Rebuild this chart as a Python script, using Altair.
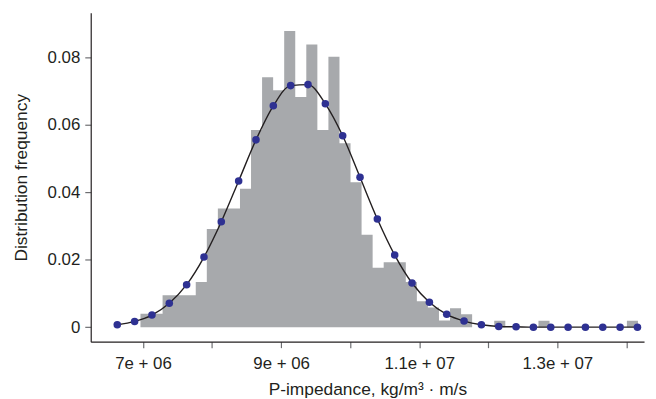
import altair as alt
import pandas as pd

# Histogram: 45 equal bins starting at hist_start with width hist_width
hist_start = 6.963e6
hist_width = 1.601e5
hist_freq = [
    0.0040, 0.0040, 0.0095, 0.0095, 0.0095, 0.0134, 0.0291, 0.0352, 0.0352, 0.0411,
    0.0585, 0.0742, 0.0703, 0.0879, 0.0683, 0.0839, 0.0585, 0.0803, 0.0546, 0.0430,
    0.0274, 0.0176, 0.0193, 0.0193, 0.0134, 0.0077, 0.0058, 0.0020, 0.0056, 0.0038,
    0.0000, 0.0000, 0.0019, 0.0000, 0.0000, 0.0000, 0.0019, 0.0000, 0.0000, 0.0000,
    0.0000, 0.0000, 0.0000, 0.0000, 0.0019,
]

# Fitted density curve sampled on an even grid
kde_start = 6.627e6
kde_step = 2.511e5
kde_vals = [
    0.0007, 0.0017, 0.0036, 0.0071, 0.0126, 0.0208, 0.0313, 0.0434, 0.0556, 0.0657,
    0.0717, 0.0720, 0.0663, 0.0568, 0.0445, 0.0321, 0.0214, 0.0131, 0.0074, 0.0038,
    0.0018, 0.0007, 0.0002, 0.0001, 0.0000, 0.0000, 0.0000, 0.0000, 0.0000, 0.0000,
    0.0000,
]

x_ticks = [7e6, 8e6, 9e6, 1e7, 1.1e7, 1.2e7, 1.3e7, 1.4e7]
x_tick_labels = ["7e + 06", "", "9e + 06", "", "1.1e + 07", "", "1.3e + 07", ""]
y_ticks = [0, 0.01, 0.02, 0.03, 0.04, 0.05, 0.06, 0.07, 0.08, 0.09]
y_tick_labels = ["0", "", "0.02", "", "0.04", "", "0.06", "", "0.08", ""]

x_domain = [6.2425e6, 1.42555e7]
y_domain = [-0.00432, 0.09332]

edges = [hist_start + i * hist_width for i in range(len(hist_freq) + 1)]
hist_df = pd.DataFrame({"x": edges, "f": hist_freq + [0.0]})
kde_df = pd.DataFrame({"x": [kde_start + i * kde_step for i in range(len(kde_vals))],
                       "d": kde_vals})

def label_expr(vals, labels):
    expr = "''"
    for v, l in zip(vals, labels):
        if l:
            expr = f"abs(datum.value - {v!r}) < 1e-9 * max(1, abs({v!r})) ? '{l}' : " + expr
    return expr

FONT = "Liberation Sans"
TXT = "#231f20"

xscale = alt.Scale(domain=x_domain, nice=False, zero=False)
yscale = alt.Scale(domain=y_domain, nice=False, zero=False)

xaxis = alt.Axis(values=x_ticks, labelExpr=label_expr(x_ticks, x_tick_labels),
                 title="P-impedance, kg/m³ · m/s", grid=False,
                 labelPadding=8, titlePadding=9)
yaxis = alt.Axis(values=y_ticks, labelExpr=label_expr(y_ticks, y_tick_labels),
                 title="Distribution frequency", grid=False,
                 labelPadding=5, titlePadding=17)

hist = alt.Chart(hist_df).mark_area(interpolate="step-after", color="#a7a9ac").encode(
    x=alt.X("x:Q", scale=xscale, axis=xaxis),
    y=alt.Y("f:Q", scale=yscale, axis=yaxis),
    y2=alt.datum(0),
)

line = alt.Chart(kde_df).mark_line(interpolate="monotone", color="#231f20",
                                   strokeWidth=1.4).encode(
    x=alt.X("x:Q", scale=xscale),
    y=alt.Y("d:Q", scale=yscale),
)

pts = alt.Chart(kde_df).mark_point(filled=True, color="#2e3192", size=58, opacity=1).encode(
    x=alt.X("x:Q", scale=xscale),
    y=alt.Y("d:Q", scale=yscale),
)

chart = alt.layer(hist, line, pts).properties(
    width=558.5, height=332,
    autosize=alt.AutoSizeParams(type="none"),
    padding={"left": 83.5, "top": 3, "right": 4, "bottom": 56},
).configure_view(stroke=None).configure_axis(
    labelFont=FONT, titleFont=FONT, labelFontSize=17, titleFontSize=17.5,
    labelColor=TXT, titleColor=TXT, titleFontWeight="normal",
    domainColor="#231f20", domainWidth=1.2, tickColor="#6d6e71", tickSize=6,
    tickWidth=1.2, labelFlush=False, labelOverlap=False,
)

chart.save("out.html", embed_options={"renderer": "svg", "actions": False})
